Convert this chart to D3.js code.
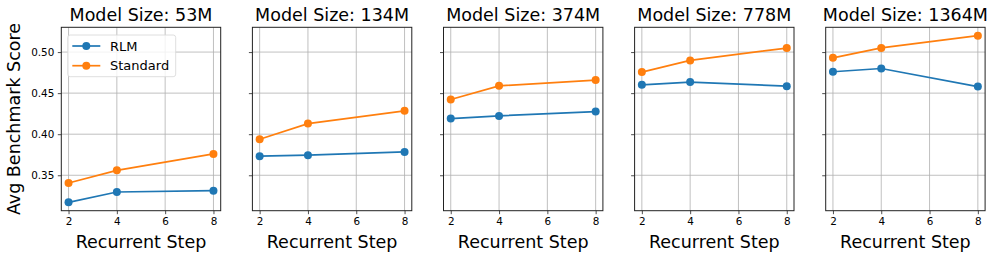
<!DOCTYPE html>
<html>
<head>
<meta charset="utf-8">
<script src="https://cdn.jsdelivr.net/npm/d3@7"></script>
<style>
  body { margin: 0; background: white; }
  svg { display: block; font-family: "DejaVu Sans", sans-serif; }
</style>
</head>
<body>
<div id="chart"></div>
<script>
// values
let modelSizes = ["53M", "134M", "374M", "778M", "1364M"];
let steps = [2, 4, 8];
let rlmScores = [
    [0.317, 0.3296, 0.3312],
    [0.3732, 0.3744, 0.3784],
    [0.419, 0.4223, 0.4276],
    [0.4601, 0.4634, 0.4585],
    [0.476, 0.480, 0.458]
];
let standardScores = [
    [0.3406, 0.356, 0.376],
    [0.3939, 0.4129, 0.4284],
    [0.4422, 0.4589, 0.4659],
    [0.4756, 0.4898, 0.5049],
    [0.493, 0.505, 0.520]
];
let xTicks = [2, 4, 6, 8];
let yTicks = [0.35, 0.40, 0.45, 0.50];
let seriesNames = ["RLM", "Standard"];
let seriesColors = ["#1f77b4", "#ff7f0e"];

let W = 996, H = 259;
let firstLeft = 61.3, panelW = 159.4, panelStep = 191.1;
let plotTop = 27.3, plotBottom = 210.7;

let svg = d3.select("#chart").append("svg")
    .attr("width", W)
    .attr("height", H);

// shared y range with matplotlib-style 5% margins
let allVals = rlmScores.flat().concat(standardScores.flat());
let yMin = d3.min(allVals), yMax = d3.max(allVals);
let yPad = (yMax - yMin) * 0.05;
let y = d3.scaleLinear()
    .domain([yMin - yPad, yMax + yPad])
    .range([plotBottom, plotTop]);

let xPad = (d3.max(steps) - d3.min(steps)) * 0.05;

modelSizes.forEach(function(size, i) {
    let left = firstLeft + i * panelStep;
    let x = d3.scaleLinear()
        .domain([d3.min(steps) - xPad, d3.max(steps) + xPad])
        .range([left, left + panelW]);

    let g = svg.append("g");

    // grid
    g.selectAll(".vgrid")
        .data(xTicks)
        .enter()
        .append("line")
            .attr("x1", d => x(d)).attr("x2", d => x(d))
            .attr("y1", plotTop).attr("y2", plotBottom)
            .attr("stroke", "#b0b0b0")
            .attr("stroke-width", 0.8);
    g.selectAll(".hgrid")
        .data(yTicks)
        .enter()
        .append("line")
            .attr("x1", left).attr("x2", left + panelW)
            .attr("y1", d => y(d)).attr("y2", d => y(d))
            .attr("stroke", "#b0b0b0")
            .attr("stroke-width", 0.8);

    // axes
    let xAxis = g.append("g")
        .attr("transform", "translate(0," + plotBottom + ")")
        .call(d3.axisBottom(x).tickValues(xTicks).tickFormat(d3.format("d")).tickSizeOuter(0).tickSize(3.5).tickPadding(3.2));
    let yAxis = g.append("g")
        .attr("transform", "translate(" + left + ",0)")
        .call(d3.axisLeft(y).tickValues(yTicks).tickFormat(i == 0 ? d3.format(".2f") : "").tickSizeOuter(0).tickSize(3.5).tickPadding(3.5));
    [xAxis, yAxis].forEach(function(a) {
        a.select(".domain").remove();
        a.selectAll("line").attr("stroke", "#222").attr("stroke-width", 0.8);
        a.selectAll("text")
            .attr("fill", "black")
            .style("font-size", "10.4px")
            .style("font-family", "DejaVu Sans");
    });

    // lines and markers
    [rlmScores[i], standardScores[i]].forEach(function(vals, s) {
        let pts = steps.map((st, k) => [st, vals[k]]);
        g.append("path")
            .datum(pts)
            .attr("fill", "none")
            .attr("stroke", seriesColors[s])
            .attr("stroke-width", 1.7)
            .attr("d", d3.line().x(d => x(d[0])).y(d => y(d[1])));
        g.selectAll(".pt" + s)
            .data(pts)
            .enter()
            .append("circle")
                .attr("cx", d => x(d[0]))
                .attr("cy", d => y(d[1]))
                .attr("r", 4)
                .attr("fill", seriesColors[s]);
    });

    // frame
    g.append("rect")
        .attr("x", left).attr("y", plotTop)
        .attr("width", panelW).attr("height", plotBottom - plotTop)
        .attr("fill", "none")
        .attr("stroke", "#222")
        .attr("stroke-width", 1);

    g.append("text")
        .attr("x", left + panelW / 2)
        .attr("y", 20.7)
        .attr("text-anchor", "middle")
        .style("font-size", "17.5px")
        .text("Model Size: " + size);

    g.append("text")
        .attr("x", left + panelW / 2)
        .attr("y", 248)
        .attr("text-anchor", "middle")
        .style("font-size", "17.5px")
        .text("Recurrent Step");

    if (i == 0) {
        g.append("text")
            .attr("transform", "translate(20," + ((plotTop + plotBottom) / 2) + ")rotate(-90)")
            .attr("text-anchor", "middle")
            .style("font-size", "17.5px")
            .text("Avg Benchmark Score");

        // legend
        let lg = g.append("g");
        lg.append("rect")
            .attr("x", 67.7).attr("y", 35)
            .attr("width", 108).attr("height", 41.7)
            .attr("rx", 2.5)
            .attr("fill", "white")
            .attr("fill-opacity", 0.8)
            .attr("stroke", "#d6d6d6")
            .attr("stroke-width", 0.8);
        seriesNames.forEach(function(name, s) {
            let ly = 46 + s * 19.7;
            lg.append("line")
                .attr("x1", 72.3).attr("x2", 100.3)
                .attr("y1", ly).attr("y2", ly)
                .attr("stroke", seriesColors[s])
                .attr("stroke-width", 1.7);
            lg.append("circle")
                .attr("cx", 86.3).attr("cy", ly)
                .attr("r", 4)
                .attr("fill", seriesColors[s]);
            lg.append("text")
                .attr("x", 110).attr("y", ly + 4.7)
                .style("font-size", "13px")
                .text(name);
        });
    }
});
</script>
</body>
</html>
